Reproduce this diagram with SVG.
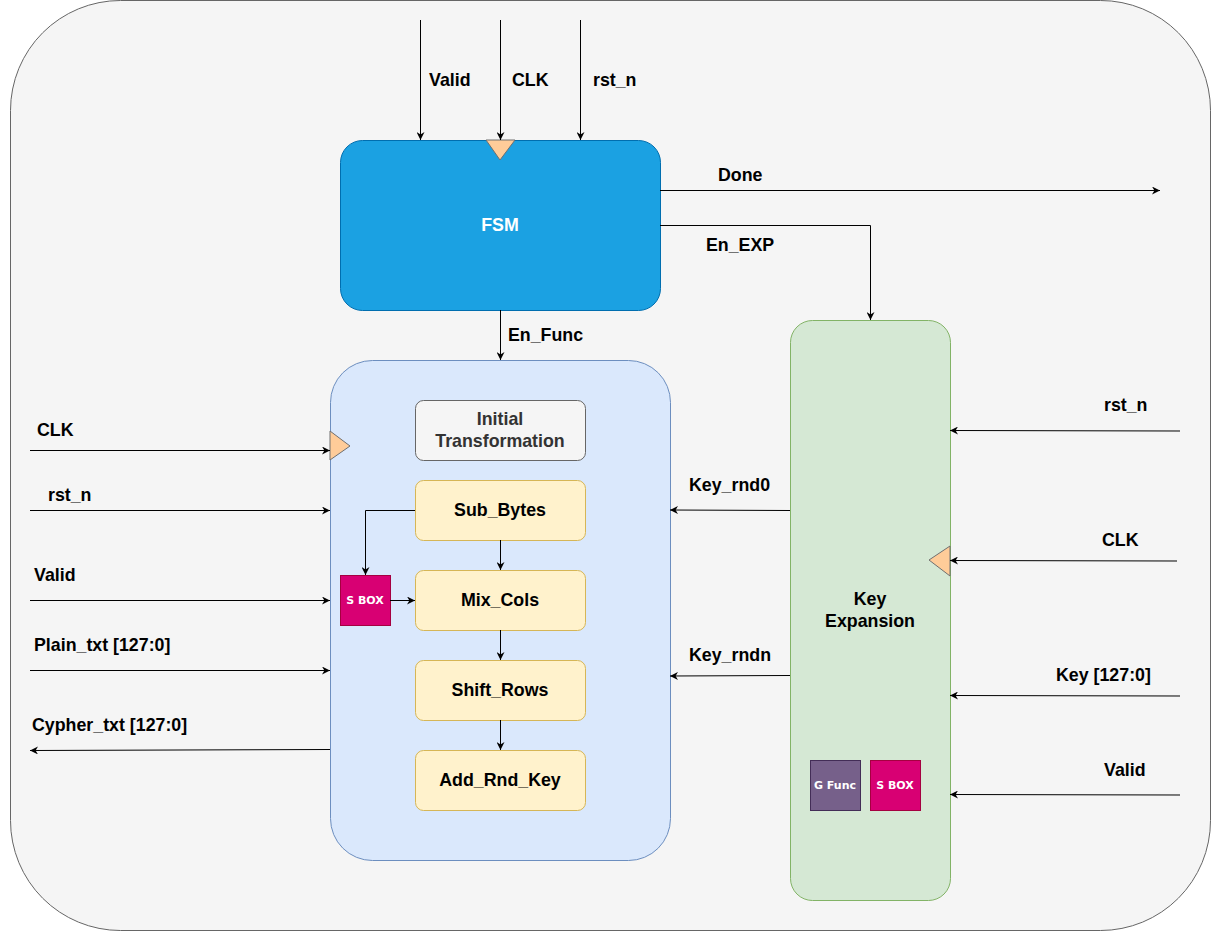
<svg xmlns="http://www.w3.org/2000/svg" width="1212" height="932" viewBox="0 0 1212 932">
<style>
.lbl{font-family:"Liberation Sans",Arial,sans-serif;font-size:17.8px;font-weight:bold;fill:#000}
.ctr{text-anchor:middle}
.w{stroke:#000;stroke-width:1;fill:none}
.clk{fill:#ffcc99;stroke:#6f6f6f;stroke-width:1}
.yel{fill:#fff2cc;stroke:#d6b656}
.sm{font-family:"DejaVu Sans","Liberation Sans",sans-serif;font-size:11px;font-weight:bold;fill:#fff;text-anchor:middle}
</style>
<defs>
<marker id="ar" viewBox="0 0 10 10" refX="10" refY="5" markerWidth="8" markerHeight="8" markerUnits="userSpaceOnUse" orient="auto">
<path d="M0,0 L10,5 L0,10 L3,5 Z" fill="#000"/>
</marker>
</defs>
<rect x="10.5" y="0.5" width="1200" height="930" rx="110" ry="110" fill="#f5f5f5" stroke="#666"/>

<g id="fsm">
<rect x="340.5" y="140.5" width="320" height="170" rx="22" fill="#1ba1e2" stroke="#006eaf"/>
<text class="lbl ctr" x="500" y="231" style="fill:#fff">FSM</text>
<polygon class="clk" points="486,140 515,140 500,160"/>
</g>

<g id="round">
<rect x="330.5" y="360.5" width="340" height="500" rx="42" fill="#dae8fc" stroke="#6c8ebf"/>
<polygon class="clk" points="330,431 350,446 330,460"/>
</g>

<g id="init">
<rect x="415.5" y="400.5" width="170" height="60" rx="8" fill="#f5f5f5" stroke="#666"/>
<text class="lbl ctr" x="500" y="425" style="fill:#333">Initial</text>
<text class="lbl ctr" x="500" y="447" style="fill:#333">Transformation</text>
</g>
<g id="subbytes">
<rect class="yel" x="415.5" y="480.5" width="170" height="60" rx="8"/>
<text class="lbl ctr" x="500" y="516">Sub_Bytes</text>
</g>
<g id="mixcols">
<rect class="yel" x="415.5" y="570.5" width="170" height="60" rx="8"/>
<text class="lbl ctr" x="500" y="606">Mix_Cols</text>
</g>
<g id="shiftrows">
<rect class="yel" x="415.5" y="660.5" width="170" height="60" rx="8"/>
<text class="lbl ctr" x="500" y="696">Shift_Rows</text>
</g>
<g id="addrndkey">
<rect class="yel" x="415.5" y="750.5" width="170" height="60" rx="8"/>
<text class="lbl ctr" x="500" y="786">Add_Rnd_Key</text>
</g>
<g id="sbox1">
<rect x="340.5" y="575.5" width="50" height="50" fill="#d80073" stroke="#a50040"/>
<text class="sm" x="365" y="604">S BOX</text>
</g>

<g id="keyexp">
<rect x="790.5" y="320.5" width="160" height="580" rx="22" fill="#d5e8d4" stroke="#82b366"/>
<text class="lbl ctr" x="870" y="605">Key</text>
<text class="lbl ctr" x="870" y="627">Expansion</text>
<polygon class="clk" points="950,546 929,560 950,576"/>
</g>
<g id="gfunc">
<rect x="810.5" y="760.5" width="50" height="50" fill="#76608a" stroke="#432d57"/>
<text class="sm" x="835" y="789">G Func</text>
</g>
<g id="sbox2">
<rect x="870.5" y="760.5" width="50" height="50" fill="#d80073" stroke="#a50040"/>
<text class="sm" x="895" y="789">S BOX</text>
</g>

<g id="connectors">
<path class="w" d="M420.5,20 V140" marker-end="url(#ar)"/>
<path class="w" d="M500.5,20 V140" marker-end="url(#ar)"/>
<path class="w" d="M580.5,20 V140" marker-end="url(#ar)"/>
<path class="w" d="M660,190.5 H1160" marker-end="url(#ar)"/>
<path class="w" d="M660,225.5 H870.5 V320" marker-end="url(#ar)"/>
<path class="w" d="M500.5,310 V360" marker-end="url(#ar)"/>
<path class="w" d="M500.5,540 V570" marker-end="url(#ar)"/>
<path class="w" d="M500.5,630 V660" marker-end="url(#ar)"/>
<path class="w" d="M500.5,720 V750" marker-end="url(#ar)"/>
<path class="w" d="M415,510.5 H365.5 V575" marker-end="url(#ar)"/>
<path class="w" d="M390,600.5 H415" marker-end="url(#ar)"/>
<path class="w" d="M30,450.5 H330" marker-end="url(#ar)"/>
<path class="w" d="M30,510.5 H330" marker-end="url(#ar)"/>
<path class="w" d="M30,600.5 H330" marker-end="url(#ar)"/>
<path class="w" d="M30,670.5 H330" marker-end="url(#ar)"/>
<path class="w" d="M330,749.5 L30,750.5" marker-end="url(#ar)"/>
<path class="w" d="M790,510.5 L670,510" marker-end="url(#ar)"/>
<path class="w" d="M790,675.5 L670,676" marker-end="url(#ar)"/>
<path class="w" d="M1180,431 L950,430.5" marker-end="url(#ar)"/>
<path class="w" d="M1177,561 L950,560.5" marker-end="url(#ar)"/>
<path class="w" d="M1180,696 L950,695.5" marker-end="url(#ar)"/>
<path class="w" d="M1180,795 L950,794.5" marker-end="url(#ar)"/>
</g>

<g id="labels">
<text class="lbl" x="429" y="86">Valid</text>
<text class="lbl" x="512" y="86">CLK</text>
<text class="lbl" x="593" y="86">rst_n</text>
<text class="lbl" x="718" y="181">Done</text>
<text class="lbl" x="706" y="251">En_EXP</text>
<text class="lbl" x="508" y="341">En_Func</text>
<text class="lbl" x="37" y="436">CLK</text>
<text class="lbl" x="48" y="501">rst_n</text>
<text class="lbl" x="34" y="581">Valid</text>
<text class="lbl" x="34" y="651">Plain_txt [127:0]</text>
<text class="lbl" x="32" y="731">Cypher_txt [127:0]</text>
<text class="lbl" x="689" y="491">Key_rnd0</text>
<text class="lbl" x="689" y="661">Key_rndn</text>
<text class="lbl" x="1104" y="411">rst_n</text>
<text class="lbl" x="1102" y="546">CLK</text>
<text class="lbl" x="1056" y="681">Key [127:0]</text>
<text class="lbl" x="1104" y="776">Valid</text>
</g>
</svg>
